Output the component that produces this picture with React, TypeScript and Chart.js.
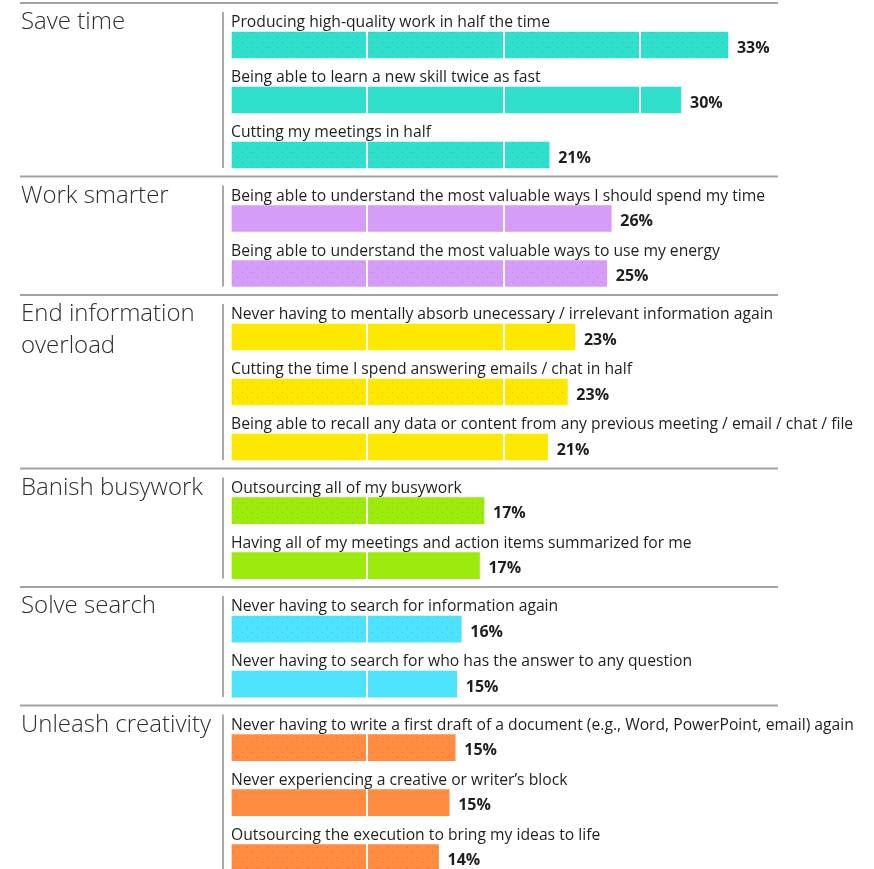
import { useEffect, useRef } from "react";
import { Chart, registerables } from "chart.js";
Chart.register(...registerables);

const groupTitles: string[][] = [
  ["Save time"],
  ["Work smarter"],
  ["End information", "overload"],
  ["Banish busywork"],
  ["Solve search"],
  ["Unleash creativity"],
];

const itemLabels: string[] = [
  "Producing high-quality work in half the time",
  "Being able to learn a new skill twice as fast",
  "Cutting my meetings in half",
  "Being able to understand the most valuable ways I should spend my time",
  "Being able to understand the most valuable ways to use my energy",
  "Never having to mentally absorb unecessary / irrelevant information again",
  "Cutting the time I spend answering emails / chat in half",
  "Being able to recall any data or content from any previous meeting / email / chat / file",
  "Outsourcing all of my busywork",
  "Having all of my meetings and action items summarized for me",
  "Never having to search for information again",
  "Never having to search for who has the answer to any question",
  "Never having to write a first draft of a document (e.g., Word, PowerPoint, email) again",
  "Never experiencing a creative or writer\u2019s block",
  "Outsourcing the execution to bring my ideas to life",
];

const itemGroups: number[] = [0, 0, 0, 1, 1, 2, 2, 2, 3, 3, 4, 4, 5, 5, 5];

const values: number[] = [32.8, 29.7, 21.0, 25.1, 24.8, 22.7, 22.2, 20.9, 16.7, 16.4, 15.2, 14.9, 14.8, 14.4, 13.7];

const valueLabels: string[] = ["33%", "30%", "21%", "26%", "25%", "23%", "23%", "21%", "17%", "17%", "16%", "15%", "15%", "15%", "14%"];

const groupColors: string[] = ["#30e0cc", "#d59cf8", "#ffe800", "#9ceb0c", "#4de3ff", "#ff8c40"];

const dotted: boolean[] = [true, false, true, false, true, false, true, false, true, false, true, false, true, false, true];

const GROUP_GAP = 0.155;
const BAR_H = 26;
const FONT = "'Open Sans', 'Noto Sans', sans-serif";

function makeFill(color: string, dots: boolean): any {
  if (!dots) return color;
  const c = document.createElement("canvas");
  c.width = 10;
  c.height = 10;
  const g = c.getContext("2d")!;
  g.fillStyle = color;
  g.fillRect(0, 0, 10, 10);
  g.fillStyle = "rgba(0,0,0,0.16)";
  g.fillRect(2, 2, 1, 1);
  g.fillRect(7, 7, 1, 1);
  return g.createPattern(c, "repeat");
}

const decorPlugin = {
  id: "decor",
  afterDraw(chart: any) {
    const ctx = chart.ctx;
    const meta = chart.getDatasetMeta(0);
    ctx.save();
    meta.data.forEach((el: any, i: number) => {
      const top = el.y - BAR_H / 2;
      ctx.fillStyle = "#1f1f1f";
      ctx.font = `400 15.7px ${FONT}`;
      ctx.textAlign = "left";
      ctx.textBaseline = "alphabetic";
      ctx.fillText(itemLabels[i], chart.chartArea.left, top - 5);
      ctx.font = `700 16px ${FONT}`;
      ctx.textBaseline = "middle";
      ctx.fillText(valueLabels[i], el.x + 9, el.y + 3);
    });
    groupTitles.forEach((lines, g) => {
      const idx = itemGroups.map((v, i) => (v === g ? i : -1)).filter((i) => i >= 0);
      const first = meta.data[idx[0]];
      const last = meta.data[idx[idx.length - 1]];
      const firstTop = first.y - BAR_H / 2;
      const lastBottom = last.y + BAR_H / 2;
      ctx.strokeStyle = "#a3a3a3";
      ctx.lineWidth = 2;
      ctx.beginPath();
      ctx.moveTo(20, firstTop - 29);
      ctx.lineTo(778, firstTop - 29);
      ctx.stroke();
      ctx.strokeStyle = "#8c8c8c";
      ctx.lineWidth = 1.5;
      ctx.beginPath();
      ctx.moveTo(223, firstTop - 20);
      ctx.lineTo(223, lastBottom);
      ctx.stroke();
      ctx.fillStyle = "#2e2e2e";
      ctx.font = `300 24px ${FONT}`;
      ctx.textAlign = "left";
      ctx.textBaseline = "alphabetic";
      lines.forEach((ln, k) => {
        ctx.fillText(ln, 21, firstTop - 3 + k * 32);
      });
    });
    ctx.restore();
  },
};

export default function App() {
  const ref = useRef<HTMLCanvasElement>(null);
  useEffect(() => {
    if (!ref.current) return;
    const positions = values.map((_, i) => i + itemGroups[i] * GROUP_GAP);
    const fills = values.map((_, i) => makeFill(groupColors[itemGroups[i]], dotted[i]));
    const chart = new Chart(ref.current, {
      type: "bar",
      data: {
        datasets: [
          {
            data: values.map((v, i) => ({ x: v, y: positions[i] })),
            backgroundColor: fills,
            borderWidth: 0,
            barThickness: BAR_H,
          } as any,
        ],
      },
      plugins: [decorPlugin],
      options: {
        indexAxis: "y",
        animation: false,
        responsive: false,
        layout: { padding: { left: 231, right: 0, top: 0, bottom: 0 } },
        plugins: { legend: { display: false }, tooltip: { enabled: false } },
        scales: {
          x: {
            type: "linear",
            min: 0,
            max: 42.44,
            offset: false,
            ticks: { display: false, stepSize: 9 },
            border: { display: false },
            grid: {
              color: (c: any) => (c.tick && c.tick.value === 0 ? "rgba(0,0,0,0)" : "#ffffff"),
              lineWidth: 2,
              drawTicks: false,
              z: 1,
            },
            afterFit: (s: any) => {
              s.height = 0;
            },
          },
          y: {
            type: "linear",
            display: false,
            reverse: true,
            offset: false,
            min: -0.818,
            max: 14.982,
          },
        },
      } as any,
    });
    return () => chart.destroy();
  }, []);
  return (
    <div style={{ position: "absolute", left: 0, top: 0, width: 874, height: 869, background: "#fff" }}>
      <canvas ref={ref} width={874} height={869} style={{ display: "block" }} />
    </div>
  );
}
